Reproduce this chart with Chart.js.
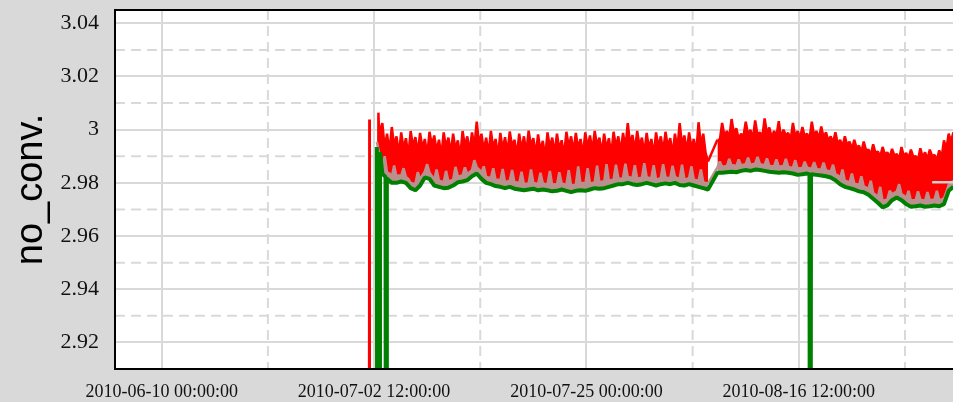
<!DOCTYPE html>
<html>
<head>
<meta charset="utf-8">
<script src="https://cdn.jsdelivr.net/npm/chart.js@4/dist/chart.umd.min.js"></script>
<style>
html,body{margin:0;padding:0;background:#d9d9d9;overflow:hidden;}
canvas{display:block;}
</style>
</head>
<body>
<canvas id="c" width="953" height="402"></canvas>
<script>
// ---------------- data ----------------
const xTickLabels = ['2010-06-10 00:00:00', '2010-07-02 12:00:00', '2010-07-25 00:00:00', '2010-08-16 12:00:00'];
const xMinorGrid  = ['2010-06-21 06:00:00', '2010-07-13 18:00:00', '2010-08-05 06:00:00', '2010-08-27 18:00:00'];
const xRange = ['2010-06-05 01:15:00', '2010-09-01 20:00:00'];
const yTicks = [2.92, 2.94, 2.96, 2.98, 3.00, 3.02, 3.04];
const yMinorGrid = [2.93, 2.95, 2.97, 2.99, 3.01, 3.03];
const yRange = [2.91, 3.045];
const yTitle = 'no_conv.';

// regular sampling blocks (block 1 before the early-August gap, block 2 after it)
const block1Start = '2010-07-03 09:00:00';
const block2Start = '2010-08-07 21:00:00';
const fineStepHours = 6;    // red and gray samples
const coarseStepHours = 12; // green samples
const gapHours = 12;        // longer steps are data gaps (line only, no band)

// red series: alternating peaks / troughs
const redHigh1 = [
  3.0025, 2.9985, 3.0010, 2.9975, 2.9990, 2.9968, 2.9995, 2.9972, 2.9988, 2.9965,
  2.9992, 2.9978, 2.9962, 2.9990, 2.9970, 2.9985, 2.9960, 2.9995, 2.9975, 2.9990,
  3.0030, 2.9985, 2.9970, 2.9995, 2.9965, 2.9988, 2.9972, 2.9993, 2.9962, 2.9985,
  2.9975, 2.9996, 2.9968, 2.9982, 2.9958, 2.9990, 2.9970, 2.9985, 2.9960, 2.9992,
  2.9975, 2.9988, 2.9965, 2.9990, 2.9978, 2.9995, 2.9970, 2.9985, 2.9968, 2.9992,
  2.9975, 2.9988, 3.0025, 2.9980, 2.9995, 2.9970, 2.9988, 2.9965, 2.9990, 2.9975,
  2.9992, 2.9968, 2.9985, 3.0025, 2.9978, 2.9990, 2.9965, 3.0028, 2.9985, 2.9880
];
const redLow1 = [
  2.9930, 2.9915, 2.9938, 2.9905, 2.9925, 2.9898, 2.9935, 2.9910, 2.9928, 2.9902,
  2.9940, 2.9918, 2.9900, 2.9932, 2.9912, 2.9925, 2.9895, 2.9938, 2.9915, 2.9935,
  2.9945, 2.9920, 2.9905, 2.9930, 2.9898, 2.9925, 2.9910, 2.9935, 2.9900, 2.9922,
  2.9912, 2.9938, 2.9905, 2.9920, 2.9895, 2.9930, 2.9908, 2.9925, 2.9900, 2.9935,
  2.9915, 2.9928, 2.9902, 2.9932, 2.9918, 2.9940, 2.9910, 2.9926, 2.9905, 2.9935,
  2.9915, 2.9930, 2.9945, 2.9918, 2.9936, 2.9908, 2.9928, 2.9902, 2.9932, 2.9915,
  2.9935, 2.9905, 2.9925, 2.9942, 2.9915, 2.9930, 2.9908, 2.9940, 2.9912
];
const redHigh2 = [
  2.9962, 3.0025, 2.9995, 3.0040, 3.0005, 2.9985, 3.0030, 3.0000, 3.0035, 2.9990,
  3.0042, 3.0008, 2.9995, 3.0032, 3.0000, 2.9988, 3.0025, 2.9995, 3.0010, 2.9985,
  3.0030, 2.9995, 3.0012, 2.9990, 2.9975, 2.9990, 2.9962, 2.9975, 2.9955, 2.9962,
  2.9940, 2.9955, 2.9925, 2.9945, 2.9918, 2.9935, 2.9915, 2.9928, 2.9908, 2.9935,
  2.9912, 2.9925, 2.9900, 2.9930, 2.9915, 2.9925, 2.9905, 2.9922, 2.9960, 2.9985,
  2.9990
];
const redLow2 = [
  2.9960, 2.9975, 2.9968, 2.9985, 2.9965, 2.9972, 2.9980, 2.9962, 2.9978, 2.9970,
  2.9985, 2.9968, 2.9975, 2.9965, 2.9978, 2.9960, 2.9972, 2.9966, 2.9974, 2.9962,
  2.9975, 2.9965, 2.9970, 2.9958, 2.9950, 2.9945, 2.9935, 2.9940, 2.9925, 2.9930,
  2.9915, 2.9922, 2.9905, 2.9912, 2.9898, 2.9905, 2.9895, 2.9902, 2.9888, 2.9900,
  2.9892, 2.9898, 2.9885, 2.9895, 2.9888, 2.9900, 2.9885, 2.9895, 2.9925, 2.9955,
  2.9970
];
const redExtraTimes = ['2010-07-01 23:00:00', '2010-07-02 00:00:00', '2010-07-02 01:00:00',
  '2010-07-02 21:00:00', '2010-07-02 23:00:00', '2010-07-03 02:00:00', '2010-07-03 05:00:00'];
const redExtraVals = [2.85, 3.0038, 2.85, 2.85, 3.0064, 2.9935, 3.0005];

// gray series
const gray1 = [
  2.9858, 2.9900, 2.9838, 2.9835, 2.9822, 2.9865, 2.9822, 2.9828, 2.9826, 2.9855,
  2.9822, 2.9815, 2.9800, 2.9798, 2.9795, 2.9840, 2.9812, 2.9828, 2.9842, 2.9870,
  2.9838, 2.9825, 2.9812, 2.9850, 2.9808, 2.9805, 2.9802, 2.9845, 2.9805, 2.9808,
  2.9812, 2.9860, 2.9825, 2.9826, 2.9828, 2.9858, 2.9832, 2.9840, 2.9848, 2.9885,
  2.9858, 2.9850, 2.9838, 2.9862, 2.9822, 2.9820, 2.9818, 2.9855, 2.9810, 2.9812,
  2.9808, 2.9852, 2.9802, 2.9805, 2.9808, 2.9848, 2.9800, 2.9802, 2.9798, 2.9842,
  2.9795, 2.9797, 2.9798, 2.9850, 2.9800, 2.9798, 2.9795, 2.9838, 2.9798, 2.9796,
  2.9795, 2.9845, 2.9790, 2.9795, 2.9793, 2.9840, 2.9798, 2.9795, 2.9793, 2.9848,
  2.9788, 2.9792, 2.9793, 2.9862, 2.9795, 2.9800, 2.9793, 2.9855, 2.9798, 2.9800,
  2.9802, 2.9865, 2.9800, 2.9805, 2.9802, 2.9870, 2.9808, 2.9810, 2.9812, 2.9868,
  2.9818, 2.9815, 2.9818, 2.9872, 2.9822, 2.9820, 2.9818, 2.9866, 2.9815, 2.9818,
  2.9818, 2.9874, 2.9822, 2.9818, 2.9818, 2.9866, 2.9812, 2.9815, 2.9818, 2.9870,
  2.9820, 2.9818, 2.9818, 2.9864, 2.9822, 2.9818, 2.9815, 2.9868, 2.9812, 2.9815,
  2.9818, 2.9862, 2.9812, 2.9810, 2.9808, 2.9850, 2.9802, 2.9800, 2.9798
];
const gray2 = [
  2.9858, 2.9880, 2.9860, 2.9862, 2.9862, 2.9890, 2.9864, 2.9866, 2.9862, 2.9888,
  2.9867, 2.9868, 2.9870, 2.9895, 2.9867, 2.9870, 2.9872, 2.9898, 2.9870, 2.9868,
  2.9867, 2.9892, 2.9864, 2.9862, 2.9862, 2.9888, 2.9860, 2.9862, 2.9862, 2.9890,
  2.9860, 2.9858, 2.9857, 2.9885, 2.9852, 2.9855, 2.9854, 2.9880, 2.9857, 2.9855,
  2.9854, 2.9878, 2.9852, 2.9850, 2.9850, 2.9876, 2.9847, 2.9845, 2.9842, 2.9868,
  2.9832, 2.9828, 2.9818, 2.9850, 2.9808, 2.9805, 2.9802, 2.9835, 2.9797, 2.9795,
  2.9790, 2.9825, 2.9787, 2.9782, 2.9777, 2.9808, 2.9762, 2.9755, 2.9747, 2.9785,
  2.9730, 2.9735, 2.9737, 2.9770, 2.9757, 2.9762, 2.9767, 2.9795, 2.9757, 2.9752,
  2.9742, 2.9770, 2.9732, 2.9735, 2.9734, 2.9768, 2.9737, 2.9735, 2.9732, 2.9765,
  2.9734, 2.9736, 2.9737, 2.9770, 2.9734, 2.9738, 2.9742, 2.9765, 2.9792, 2.9800,
  2.9807
];
const grayExtraTimes = ['2010-07-02 19:00:00', '2010-07-03 03:00:00'];
const grayExtraVals = [2.9955, 2.9895];

// green series
const green1 = [
  2.9835, 2.9815, 2.9800, 2.9800, 2.9805, 2.9800, 2.9780, 2.9772, 2.9790, 2.9820,
  2.9815, 2.9790, 2.9785, 2.9780, 2.9782, 2.9790, 2.9802, 2.9805, 2.9810, 2.9825,
  2.9835, 2.9815, 2.9800, 2.9795, 2.9788, 2.9785, 2.9780, 2.9785, 2.9778, 2.9775,
  2.9772, 2.9775, 2.9778, 2.9772, 2.9775, 2.9772, 2.9768, 2.9770, 2.9775, 2.9770,
  2.9765, 2.9770, 2.9772, 2.9770, 2.9775, 2.9780, 2.9778, 2.9780, 2.9785, 2.9790,
  2.9795, 2.9795, 2.9800, 2.9795, 2.9792, 2.9795, 2.9800, 2.9795, 2.9790, 2.9795,
  2.9798, 2.9795, 2.9800, 2.9792, 2.9790, 2.9795, 2.9790, 2.9785, 2.9780, 2.9775
];
const green2 = [
  2.9838, 2.9838, 2.9840, 2.9842, 2.9840, 2.9845, 2.9848, 2.9845, 2.9850, 2.9848,
  2.9845, 2.9842, 2.9840, 2.9838, 2.9840, 2.9838, 2.9835, 2.9830, 2.9832, 2.9835,
  2.9832, 2.9830, 2.9828, 2.9825, 2.9820, 2.9810, 2.9795, 2.9785, 2.9780, 2.9775,
  2.9768, 2.9765, 2.9755, 2.9740, 2.9725, 2.9708, 2.9715, 2.9735, 2.9745, 2.9735,
  2.9720, 2.9710, 2.9712, 2.9715, 2.9710, 2.9712, 2.9715, 2.9712, 2.9720, 2.9770,
  2.9785, 2.9790
];
const greenExtraTimes = ['2010-07-02 19:00:00', '2010-07-02 20:00:00', '2010-07-03 02:00:00', '2010-07-03 03:00:00',
  '2010-07-03 17:00:00', '2010-07-03 18:00:00', '2010-07-03 20:00:00', '2010-07-03 20:30:00',
  '2010-08-17 15:00:00', '2010-08-17 16:00:00', '2010-08-17 18:00:00', '2010-08-17 19:00:00'];
const greenExtraVals = [2.9935, 2.85, 2.85, 2.9915, 2.9822, 2.85, 2.85, 2.9818, 2.9832, 2.85, 2.85, 2.9832];

// light gray level segment at the right edge
const refTimes = ['2010-08-30 15:00:00', '2010-09-04 00:00:00'];
const refVals = [2.9802, 2.9802];

// ---------------- build ----------------
const HOUR = 3600000;
function ts(s) { return Date.parse(s.replace(' ', 'T') + 'Z'); }
function regular(start, stepH, vals) {
  const t0 = ts(start);
  return vals.map((v, i) => ({ x: t0 + i * stepH * HOUR, y: v }));
}
function interleave(a, b) {
  const out = [];
  for (let i = 0; i < Math.max(a.length, b.length); i++) {
    if (i < a.length) out.push(a[i]);
    if (i < b.length) out.push(b[i]);
  }
  return out;
}
function pts(times, vals) { return times.map((t, i) => ({ x: ts(t), y: vals[i] })); }
const byX = (a, b) => a.x - b.x;

const redData = [].concat(
  pts(redExtraTimes, redExtraVals),
  regular(block1Start, fineStepHours, interleave(redHigh1, redLow1)),
  regular(block2Start, fineStepHours, interleave(redHigh2, redLow2))
).sort(byX);
const grayData = [].concat(
  pts(grayExtraTimes, grayExtraVals),
  regular(block1Start, fineStepHours, gray1),
  regular(block2Start, fineStepHours, gray2)
).sort(byX);
const greenData = [].concat(
  pts(greenExtraTimes, greenExtraVals),
  regular(block1Start, coarseStepHours, green1),
  regular(block2Start, coarseStepHours, green2)
).sort(byX);
const refData = pts(refTimes, refVals);

function fmtDate(v) {
  return new Date(v).toISOString().slice(0, 19).replace('T', ' ');
}
// no band fill across data gaps
const gapFill = (c) => (c.p1.parsed.x - c.p0.parsed.x > gapHours * HOUR) ? 'rgba(0,0,0,0)' : undefined;

const GRID = '#d9d9d9';
const BG = '#d9d9d9';

const bgPlugin = {
  id: 'bg',
  beforeDraw(chart) {
    const { ctx, chartArea: a } = chart;
    ctx.save();
    ctx.fillStyle = BG;
    ctx.fillRect(0, 0, chart.width, chart.height);
    ctx.fillStyle = '#ffffff';
    ctx.fillRect(a.left, a.top, a.right - a.left, a.bottom - a.top);
    ctx.restore();
  }
};
const minorGridPlugin = {
  id: 'minorGrid',
  beforeDatasetsDraw(chart) {
    const { ctx, chartArea: a, scales } = chart;
    ctx.save();
    ctx.beginPath();
    ctx.rect(a.left, a.top, a.right - a.left, a.bottom - a.top);
    ctx.clip();
    ctx.strokeStyle = GRID;
    ctx.lineWidth = 2;
    ctx.setLineDash([10, 6]);
    yMinorGrid.forEach(v => {
      const y = scales.y.getPixelForValue(v);
      ctx.beginPath(); ctx.moveTo(a.left, y); ctx.lineTo(a.right, y); ctx.stroke();
    });
    xMinorGrid.forEach(s => {
      const x = scales.x.getPixelForValue(ts(s));
      ctx.beginPath(); ctx.moveTo(x, a.top); ctx.lineTo(x, a.bottom); ctx.stroke();
    });
    ctx.restore();
  }
};
const framePlugin = {
  id: 'frame',
  afterDraw(chart) {
    const { ctx, chartArea: a } = chart;
    ctx.save();
    ctx.strokeStyle = '#000000';
    ctx.lineWidth = 2;
    ctx.beginPath();
    ctx.moveTo(chart.width + 2, a.top);
    ctx.lineTo(a.left, a.top);
    ctx.lineTo(a.left, a.bottom);
    ctx.lineTo(chart.width + 2, a.bottom);
    ctx.stroke();
    ctx.restore();
  }
};

new Chart(document.getElementById('c'), {
  type: 'line',
  data: {
    datasets: [
      { label: 'max', data: redData, borderColor: '#ff0000', backgroundColor: '#ff0000', borderWidth: 2.5, order: 4,
        fill: 1, clip: 0, segment: { backgroundColor: gapFill } },
      { label: 'mean', data: grayData, borderColor: '#bc8f8f', backgroundColor: '#bc8f8f', borderWidth: 2.5, order: 3,
        fill: 2, clip: 0, segment: { backgroundColor: gapFill } },
      { label: 'min', data: greenData, borderColor: '#008000', borderWidth: 4, order: 2, fill: false, clip: 0 },
      { label: 'level', data: refData, borderColor: '#cfcfcf', borderWidth: 2.5, order: 1, fill: false, clip: 0 }
    ]
  },
  options: {
    responsive: false,
    animation: false,
    devicePixelRatio: 1,
    events: [],
    layout: { padding: { top: 10, left: 0, right: 0, bottom: 0 } },
    elements: {
      point: { radius: 0, hoverRadius: 0 },
      line: { tension: 0, borderJoinStyle: 'bevel', borderCapStyle: 'butt' }
    },
    plugins: { legend: { display: false }, tooltip: { enabled: false } },
    scales: {
      x: {
        type: 'linear',
        min: ts(xRange[0]),
        max: ts(xRange[1]),
        afterBuildTicks(scale) { scale.ticks = xTickLabels.map(s => ({ value: ts(s) })); },
        afterFit(scale) { scale.height = 33; scale.paddingLeft = 0; scale.paddingRight = 0; },
        ticks: {
          autoSkip: false, maxRotation: 0, minRotation: 0, padding: 12,
          color: '#111111',
          font: { family: "'Liberation Serif', 'Times New Roman', serif", size: 18 },
          callback: (v) => fmtDate(v)
        },
        grid: { color: GRID, lineWidth: 2, drawTicks: false },
        border: { display: false }
      },
      y: {
        type: 'linear',
        min: yRange[0],
        max: yRange[1],
        afterBuildTicks(scale) { scale.ticks = yTicks.map(v => ({ value: v })); },
        afterFit(scale) { scale.width = 115; scale.paddingTop = 0; scale.paddingBottom = 0; },
        ticks: {
          padding: 16,
          color: '#111111',
          font: { family: "'Liberation Serif', 'Times New Roman', serif", size: 22 },
          callback: (v) => String(Math.round(v * 100) / 100)
        },
        grid: { color: GRID, lineWidth: 2, drawTicks: false },
        border: { display: false },
        title: {
          display: true,
          text: yTitle,
          color: '#000000',
          font: { family: "'Liberation Sans', Arial, sans-serif", size: 38, weight: 'normal' },
          padding: { top: 9, bottom: 0 }
        }
      }
    }
  },
  plugins: [bgPlugin, minorGridPlugin, framePlugin]
});
</script>
</body>
</html>
